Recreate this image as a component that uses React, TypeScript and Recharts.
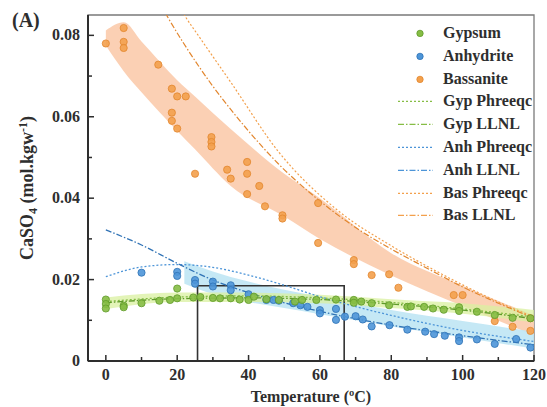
import {
  ComposedChart,
  XAxis,
  YAxis,
  Area,
  Line,
  Scatter,
  ReferenceArea,
  Legend
} from 'recharts'

const FONT = '"Liberation Serif", "Times New Roman", serif'
const INK = '#2e2e2e'

const GYP = '#86bd45'
const GYP_EDGE = '#5f9a2a'
const ANH = '#4d95d8'
const ANH_EDGE = '#2f72b5'
const BAS = '#f3a04c'
const BAS_EDGE = '#e2862e'

// measured solubilities, T in ºC, C in mol/kgw
const gypsumPoints = [
  { T: 0, C: 0.0151 }, { T: 0, C: 0.014 }, { T: 0, C: 0.0129 },
  { T: 5, C: 0.0136 }, { T: 5, C: 0.0132 }, { T: 10, C: 0.0142 },
  { T: 15, C: 0.0148 }, { T: 18, C: 0.015 }, { T: 20, C: 0.0178 },
  { T: 20, C: 0.0154 }, { T: 24.5, C: 0.0156 }, { T: 26.5, C: 0.0157 },
  { T: 30, C: 0.0155 }, { T: 32, C: 0.0154 }, { T: 35, C: 0.0154 },
  { T: 37.5, C: 0.0151 }, { T: 40, C: 0.015 }, { T: 41.5, C: 0.0158 },
  { T: 45, C: 0.0152 }, { T: 48.5, C: 0.015 }, { T: 53, C: 0.0146 },
  { T: 55, C: 0.015 }, { T: 59, C: 0.015 }, { T: 64.5, C: 0.0151 },
  { T: 69.5, C: 0.015 }, { T: 69.5, C: 0.0143 }, { T: 71.6, C: 0.0146 },
  { T: 74.5, C: 0.0142 }, { T: 79.4, C: 0.0137 }, { T: 84.5, C: 0.0133 },
  { T: 85.5, C: 0.0134 }, { T: 89.2, C: 0.0133 }, { T: 91.7, C: 0.0129 },
  { T: 94.7, C: 0.0126 }, { T: 99, C: 0.0132 }, { T: 99, C: 0.0123 },
  { T: 104, C: 0.0121 }, { T: 109, C: 0.0113 }, { T: 114, C: 0.0106 },
  { T: 119, C: 0.0105 }
]

const anhydritePoints = [
  { T: 10, C: 0.0217 }, { T: 20, C: 0.0219 }, { T: 20, C: 0.0209 },
  { T: 25, C: 0.0199 }, { T: 25, C: 0.019 }, { T: 30, C: 0.0195 },
  { T: 30, C: 0.0183 }, { T: 35, C: 0.0186 }, { T: 35, C: 0.0174 },
  { T: 40, C: 0.0164 }, { T: 45, C: 0.015 }, { T: 47, C: 0.015 },
  { T: 48.5, C: 0.0148 }, { T: 52.5, C: 0.0142 }, { T: 54.5, C: 0.0137 },
  { T: 56.5, C: 0.0133 }, { T: 60, C: 0.0125 }, { T: 60, C: 0.0117 },
  { T: 64.5, C: 0.0128 }, { T: 64.5, C: 0.0101 }, { T: 67, C: 0.0109 },
  { T: 70, C: 0.011 }, { T: 72, C: 0.0102 }, { T: 74.5, C: 0.0085 },
  { T: 79.5, C: 0.0088 }, { T: 84.5, C: 0.0077 }, { T: 89.5, C: 0.0072 },
  { T: 92, C: 0.0066 }, { T: 95, C: 0.0062 }, { T: 99, C: 0.0058 },
  { T: 99, C: 0.0049 }, { T: 104, C: 0.0053 }, { T: 109, C: 0.0042 },
  { T: 115, C: 0.0054 }, { T: 119, C: 0.0033 }
]

const bassanitePoints = [
  { T: 0, C: 0.078 }, { T: 5, C: 0.0818 }, { T: 5, C: 0.0784 },
  { T: 5, C: 0.0769 }, { T: 14.7, C: 0.0728 }, { T: 18.5, C: 0.0669 },
  { T: 20, C: 0.065 }, { T: 22.4, C: 0.065 }, { T: 18.5, C: 0.061 },
  { T: 18.5, C: 0.059 }, { T: 20, C: 0.0571 }, { T: 25, C: 0.046 },
  { T: 29.6, C: 0.055 }, { T: 29.6, C: 0.0538 }, { T: 29.6, C: 0.0527 },
  { T: 34, C: 0.047 }, { T: 35, C: 0.0448 }, { T: 39.6, C: 0.0489 },
  { T: 39.6, C: 0.046 }, { T: 43, C: 0.043 }, { T: 39.6, C: 0.041 },
  { T: 44.6, C: 0.038 }, { T: 49.5, C: 0.0358 }, { T: 49.5, C: 0.035 },
  { T: 59.5, C: 0.0388 }, { T: 59.5, C: 0.029 }, { T: 69.5, C: 0.0248 },
  { T: 69.5, C: 0.0238 }, { T: 74.5, C: 0.0211 }, { T: 79.4, C: 0.0213 },
  { T: 82, C: 0.018 }, { T: 97.5, C: 0.0162 }, { T: 100, C: 0.0162 },
  { T: 109, C: 0.0098 }, { T: 114, C: 0.0084 }, { T: 119, C: 0.0105 },
  { T: 119, C: 0.0074 }
]

// shaded uncertainty bands [low, high]
const bassaniteBand = [
  { T: 0, range: [0.0775, 0.0812] }, { T: 5, range: [0.0712, 0.0832] },
  { T: 10, range: [0.066, 0.0785] }, { T: 20, range: [0.0565, 0.069] },
  { T: 25, range: [0.052, 0.065] }, { T: 35, range: [0.043, 0.057] },
  { T: 50, range: [0.0355, 0.046] }, { T: 60, range: [0.03, 0.04] },
  { T: 80, range: [0.021, 0.0265] }, { T: 100, range: [0.0135, 0.0185] },
  { T: 120, range: [0.0063, 0.0112] }
]

const anhydriteBand = [
  { T: 22, range: [0.019, 0.0245] }, { T: 30, range: [0.0165, 0.022] },
  { T: 40, range: [0.0145, 0.0195] }, { T: 50, range: [0.013, 0.0175] },
  { T: 60, range: [0.0115, 0.0158] }, { T: 70, range: [0.01, 0.0142] },
  { T: 80, range: [0.0085, 0.0125] }, { T: 100, range: [0.0058, 0.0098] },
  { T: 120, range: [0.003, 0.0072] }
]

const gypsumBand = [
  { T: 0, range: [0.0128, 0.0156] }, { T: 20, range: [0.0145, 0.0168] },
  { T: 40, range: [0.0145, 0.0168] }, { T: 60, range: [0.0142, 0.0163] },
  { T: 80, range: [0.013, 0.0152] }, { T: 100, range: [0.0116, 0.0142] },
  { T: 120, range: [0.0095, 0.0125] }
]

// model curves
const gypPhreeqc = [
  { T: 0, C: 0.0146 }, { T: 20, C: 0.0157 }, { T: 40, C: 0.016 },
  { T: 60, C: 0.0155 }, { T: 80, C: 0.0144 }, { T: 100, C: 0.0128 },
  { T: 120, C: 0.0108 }
]
const gypLLNL = [
  { T: 0, C: 0.0143 }, { T: 20, C: 0.0153 }, { T: 40, C: 0.0155 },
  { T: 60, C: 0.0151 }, { T: 80, C: 0.014 }, { T: 100, C: 0.0125 },
  { T: 120, C: 0.0104 }
]
const anhPhreeqc = [
  { T: 0, C: 0.0207 }, { T: 10, C: 0.0231 }, { T: 20, C: 0.0237 },
  { T: 30, C: 0.023 }, { T: 40, C: 0.0211 }, { T: 50, C: 0.0186 },
  { T: 60, C: 0.0158 }, { T: 80, C: 0.0112 }, { T: 100, C: 0.0075 },
  { T: 120, C: 0.0048 }
]
const anhLLNL = [
  { T: 0, C: 0.0322 }, { T: 10, C: 0.0285 }, { T: 20, C: 0.024 },
  { T: 30, C: 0.0199 }, { T: 40, C: 0.0168 }, { T: 50, C: 0.0143 },
  { T: 60, C: 0.0122 }, { T: 80, C: 0.0088 }, { T: 100, C: 0.0062 },
  { T: 120, C: 0.004 }
]
const basPhreeqc = [
  { T: 17, C: 0.093 }, { T: 22, C: 0.085 }, { T: 26.2, C: 0.0796 },
  { T: 35, C: 0.0685 }, { T: 48.4, C: 0.0514 }, { T: 65, C: 0.037 },
  { T: 80, C: 0.0283 }, { T: 90, C: 0.0233 }, { T: 100, C: 0.0187 },
  { T: 110, C: 0.0145 }, { T: 120, C: 0.0108 }
]
const basLLNL = [
  { T: 12, C: 0.093 }, { T: 17, C: 0.085 }, { T: 26.2, C: 0.0722 },
  { T: 40, C: 0.0565 }, { T: 48.4, C: 0.0484 }, { T: 58.6, C: 0.0403 },
  { T: 70, C: 0.0328 }, { T: 80, C: 0.0275 }, { T: 90, C: 0.0228 },
  { T: 100, C: 0.0182 }, { T: 110, C: 0.0142 }, { T: 120, C: 0.0105 }
]

const xTicks = [0, 10, 20, 30, 40, 50, 60, 70, 80, 90, 100, 110, 120]
const yTicks = [0, 0.01, 0.02, 0.03, 0.04, 0.05, 0.06, 0.07, 0.08]

const DOTTED = '2 2'
const DASHDOT = '6 2 1.5 2'

const legendItems = [
  { name: 'Gypsum', dot: GYP, edge: GYP_EDGE },
  { name: 'Anhydrite', dot: ANH, edge: ANH_EDGE },
  { name: 'Bassanite', dot: BAS, edge: BAS_EDGE },
  { name: 'Gyp Phreeqc', line: GYP, dash: DOTTED },
  { name: 'Gyp LLNL', line: GYP, dash: DASHDOT },
  { name: 'Anh Phreeqc', line: ANH, dash: DOTTED },
  { name: 'Anh LLNL', line: ANH, dash: DASHDOT },
  { name: 'Bas Phreeqc', line: BAS, dash: DOTTED },
  { name: 'Bas LLNL', line: BAS, dash: DASHDOT }
]

const textStyle = { fontFamily: FONT, fontWeight: 'bold' as const, fontSize: 16, fill: INK }

function XTick({ x, y, payload }: any) {
  const v = payload.value
  const major = v % 20 === 0
  return (
    <g>
      <line x1={x} x2={x} y1={y} y2={y - (major ? 6 : 4)} stroke={INK} strokeWidth={1.5} />
      {major && (
        <text x={x} y={y + 19} textAnchor="middle" {...textStyle}>{v}</text>
      )}
    </g>
  )
}

function YTick({ x, y, payload }: any) {
  const v = payload.value
  const major = Math.round(v * 100) % 2 === 0
  return (
    <g>
      <line x1={x} x2={x + (major ? 6 : 4)} y1={y} y2={y} stroke={INK} strokeWidth={1.5} />
      {major && (
        <text x={x - 8} y={y + 5} textAnchor="end" {...textStyle}>
          {v === 0 ? '0' : v.toFixed(2)}
        </text>
      )}
    </g>
  )
}

function XTitle({ viewBox }: any) {
  return (
    <text x={viewBox.x + viewBox.width / 2} y={viewBox.y + 41} textAnchor="middle" {...textStyle}>
      Temperature (ºC)
    </text>
  )
}

function YTitle({ viewBox }: any) {
  const x = viewBox.x + 5
  const y = viewBox.y + viewBox.height / 2
  return (
    <text x={x} y={y} textAnchor="middle" transform={`rotate(-90, ${x}, ${y})`} {...textStyle} fontSize={18}>
      <tspan>CaSO</tspan>
      <tspan dy={4} fontSize={12}>4</tspan>
      <tspan dy={-4}> (mol.kgw</tspan>
      <tspan dy={-6} fontSize={12}>-1</tspan>
      <tspan dy={6}>)</tspan>
    </text>
  )
}

function LegendBox() {
  return (
    <div style={{ fontFamily: FONT, fontWeight: 'bold', fontSize: 16, color: INK }}>
      {legendItems.map(item => (
        <div key={item.name} style={{ display: 'flex', alignItems: 'center', height: 22.8 }}>
          <svg width={47} height={22.8}>
            {item.dot ? (
              <circle cx={24} cy={11.4} r={3.2} fill={item.dot} stroke={item.edge} strokeWidth={0.8} />
            ) : (
              <line x1={2} x2={37} y1={11.4} y2={11.4} stroke={item.line} strokeWidth={1.3} strokeDasharray={item.dash} />
            )}
          </svg>
          <span style={{ lineHeight: '22.8px' }}>{item.name}</span>
        </div>
      ))}
    </div>
  )
}

const dot = (fill: string, edge: string) => (p: any) => (
  <circle cx={p.cx} cy={p.cy} r={3.6} fill={fill} stroke={edge} strokeWidth={0.8} fillOpacity={0.9} />
)

export default function App() {
  return (
    <div style={{ position: 'absolute', left: 0, top: 0, background: '#fff' }}>
      <ComposedChart width={547} height={407} margin={{ top: 15, right: 13, left: 28, bottom: 0 }}>
        <XAxis
          type="number"
          dataKey="T"
          domain={[-5, 120]}
          ticks={xTicks}
          interval={0}
          allowDataOverflow
          height={46}
          tickSize={0}
          tickMargin={0}
          tickLine={false}
          tick={<XTick />}
          axisLine={{ stroke: INK, strokeWidth: 2 }}
          label={<XTitle />}
        />
        <YAxis
          type="number"
          domain={[0, 0.085]}
          ticks={yTicks}
          interval={0}
          allowDataOverflow
          width={60}
          tickSize={0}
          tickMargin={0}
          tickLine={false}
          tick={<YTick />}
          axisLine={{ stroke: INK, strokeWidth: 2 }}
          label={<YTitle />}
        />
        <ReferenceArea x1={-5} x2={120} y1={0} y2={0.085} fill="none" stroke="#7a7a7a" strokeWidth={1.3} />

        <Area data={bassaniteBand} dataKey="range" type="monotone" stroke="none" fill="#fbcdb0" fillOpacity={0.95} isAnimationActive={false} />
        <Area data={anhydriteBand} dataKey="range" type="monotone" stroke="none" fill="#bfe5f4" fillOpacity={0.9} isAnimationActive={false} />
        <Area data={gypsumBand} dataKey="range" type="monotone" stroke="none" fill="#d9f0a0" fillOpacity={0.75} isAnimationActive={false} />

        <Line data={basPhreeqc} dataKey="C" type="monotone" stroke={BAS} strokeWidth={1.2} strokeDasharray={DOTTED} dot={false} isAnimationActive={false} />
        <Line data={basLLNL} dataKey="C" type="monotone" stroke={BAS_EDGE} strokeWidth={1.2} strokeDasharray={DASHDOT} dot={false} isAnimationActive={false} />
        <Line data={anhPhreeqc} dataKey="C" type="monotone" stroke={ANH} strokeWidth={1.3} strokeDasharray={DOTTED} dot={false} isAnimationActive={false} />
        <Line data={anhLLNL} dataKey="C" type="monotone" stroke={ANH_EDGE} strokeWidth={1.3} strokeDasharray={DASHDOT} dot={false} isAnimationActive={false} />
        <Line data={gypPhreeqc} dataKey="C" type="monotone" stroke={GYP} strokeWidth={1.3} strokeDasharray={DOTTED} dot={false} isAnimationActive={false} />
        <Line data={gypLLNL} dataKey="C" type="monotone" stroke={GYP_EDGE} strokeWidth={1.3} strokeDasharray={DASHDOT} dot={false} isAnimationActive={false} />

        <Scatter data={bassanitePoints} dataKey="C" shape={dot(BAS, BAS_EDGE)} isAnimationActive={false} />
        <Scatter data={anhydritePoints} dataKey="C" shape={dot(ANH, ANH_EDGE)} isAnimationActive={false} />
        <Scatter data={gypsumPoints} dataKey="C" shape={dot(GYP, GYP_EDGE)} isAnimationActive={false} />

        <ReferenceArea x1={25.7} x2={66.8} y1={0} y2={0.0185} fill="none" stroke="#333" strokeWidth={1.6} />

        <Legend
          layout="vertical"
          align="center"
          verticalAlign="middle"
          content={<LegendBox />}
          wrapperStyle={{ left: 396, top: 22, width: 150 }}
        />
      </ComposedChart>
      <div
        style={{
          position: 'absolute',
          left: 12,
          top: 9,
          fontFamily: FONT,
          fontWeight: 'bold',
          fontSize: 20,
          color: INK
        }}
      >
        (A)
      </div>
    </div>
  )
}
